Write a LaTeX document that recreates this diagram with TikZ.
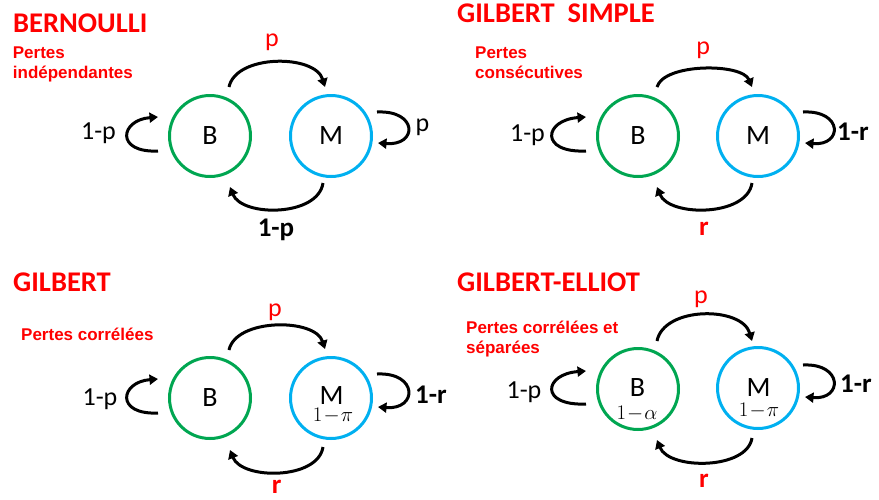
\documentclass[tikz,border=0pt]{standalone}
\usepackage{fontspec}
\setmainfont{Carlito}
\newfontfamily\arialf{Liberation Sans}
\usetikzlibrary{arrows.meta,calc}
\definecolor{sgreen}{RGB}{0,166,81}
\definecolor{sblue}{RGB}{0,176,240}
\definecolor{sred}{RGB}{255,0,0}
\begin{document}
\begin{tikzpicture}[x=1pt,y=-1pt,
 state/.style={circle,draw,line width=3pt,minimum size=81pt,inner sep=0pt,font=\fontsize{28}{28}\selectfont},
 bst/.style={state,draw=sgreen},
 mst/.style={state,draw=sblue},
 letter/.style={font=\fontsize{28}{28}\selectfont,inner sep=0pt,anchor=base,text depth=0pt},
 arr/.style={line width=3pt,-{Triangle[length=8.5pt,width=10pt]}},
 ttl/.style={text=sred,font=\bfseries\fontsize{28.5}{28.5}\selectfont,anchor=base west,inner sep=0pt},
 subt/.style={text=sred,font=\arialf\bfseries\fontsize{17}{19.5}\selectfont,anchor=north west,align=left,inner sep=0pt},
 lab/.style={font=\fontsize{26}{26}\selectfont,inner sep=0pt,anchor=base},
 blab/.style={font=\bfseries\fontsize{27}{27}\selectfont,inner sep=0pt,anchor=base},
 plab/.style={lab,text=sred},
 rlab/.style={font=\bfseries\fontsize{27}{27}\selectfont,inner sep=0pt,anchor=base,text depth=0pt,text=sred},
 mlab/.style={font=\fontsize{20}{20}\selectfont,inner sep=0pt,anchor=base,text height=12pt}]
\useasboundingbox (0,0) rectangle (879,499);

% ---------- Panel 1: BERNOULLI
\node[ttl] (t1) at (13,32.7) {BERNOULLI};
\node[subt] (s1) at (12.7,46.7) {Pertes\\indépendantes};
\node[bst] (B1) at (210,136) {B};
\node[mst] (M1) at (331,136) {M};
\draw[arr] ($(B1)+(19,-49)$) .. controls ($(B1)+(26,-82)$) and ($(M1)+(-16,-82)$) .. ($(M1)+(-6,-49)$);
\draw[arr] ($(M1)+(-8,47)$) .. controls ($(M1)+(-13,81)$) and ($(B1)+(32,81)$) .. ($(B1)+(20,51)$);
\draw[arr] ($(B1)+(-52,15)$) .. controls ($(B1)+(-95,17)$) and ($(B1)+(-90,-16)$) .. ($(B1)+(-52,-19)$);
\draw[arr] ($(M1)+(46,-24)$) .. controls ($(M1)+(87,-26)$) and ($(M1)+(87,10)$) .. ($(M1)+(47,7)$);
\node[plab] (p1a) at (272,46) {p};
\node[lab] (p1b) at (98.5,139.3) {1-p};
\node[lab] (p1c) at (422.5,131) {p};
\node[blab] (p1d) at (276,236.5) {1-p};

% ---------- Panel 2: GILBERT SIMPLE
\node[ttl] (t2) at (457,22.7) {GILBERT\ \ SIMPLE};
\node[subt] (s2) at (475,46.7) {Pertes\\consécutives};
\node[bst] (B2) at (638,136) {B};
\node[mst] (M2) at (758,136) {M};
\draw[arr] ($(B2)+(19,-49)$) .. controls ($(B2)+(26,-73)$) and ($(M2)+(-16,-73)$) .. ($(M2)+(-6,-49)$);
\draw[arr] ($(M2)+(-6,47)$) .. controls ($(M2)+(-11,81)$) and ($(B2)+(31,81)$) .. ($(B2)+(19,51)$);
\draw[arr] ($(B2)+(-52,15)$) .. controls ($(B2)+(-99,17)$) and ($(B2)+(-94,-16)$) .. ($(B2)+(-52,-19)$);
\draw[arr] ($(M2)+(45,-24)$) .. controls ($(M2)+(85,-26)$) and ($(M2)+(85,10)$) .. ($(M2)+(47,7)$);
\node[plab] (p2a) at (703.3,54) {p};
\node[lab] (p2b) at (527.5,141.5) {1-p};
\node[blab] (p2c) at (853,140) {1-r};
\node[rlab] (p2d) at (704,235.7) {r};

% ---------- Panel 3: GILBERT
\node[ttl] (t3) at (13,291.7) {GILBERT};
\node[subt] (s3) at (21,328) {Pertes corrélées};
\node[bst] (B3) at (210,398) {B};
\node[mst] (M3) at (331,398) {};
\node[letter] (M3t) at (331.5,404) {M};
\node[mlab] (M3s) at (333,421) {$1\mkern1mu{-}\mkern1mu\pi$};
\draw[arr] ($(B3)+(19,-48)$) .. controls ($(B3)+(26,-80)$) and ($(M3)+(-16,-80)$) .. ($(M3)+(-6,-49)$);
\draw[arr] ($(M3)+(-8,49)$) .. controls ($(M3)+(-13,82)$) and ($(B3)+(32,82)$) .. ($(B3)+(20,52)$);
\draw[arr] ($(B3)+(-52,15)$) .. controls ($(B3)+(-95,17)$) and ($(B3)+(-90,-16)$) .. ($(B3)+(-52,-19)$);
\draw[arr] ($(M3)+(46,-24)$) .. controls ($(M3)+(87,-26)$) and ($(M3)+(87,12)$) .. ($(M3)+(47,9)$);
\node[plab] (p3a) at (275,316.5) {p};
\node[lab] (p3b) at (100,405) {1-p};
\node[blab] (p3c) at (431,403.5) {1-r};
\node[rlab] (p3d) at (276.7,493) {r};

% ---------- Panel 4: GILBERT-ELLIOT
\node[ttl] (t4) at (457,291.7) {GILBERT-ELLIOT};
\node[subt] (s4) at (466,321) {Pertes corrélées et\\séparées};
\node[bst] (B4) at (638,389) {};
\node[mst] (M4) at (758,388) {};
\node[letter] (B4t) at (637.5,396) {B};
\node[mlab] (B4s) at (637,419) {$1\mkern1mu{-}\mkern1mu\alpha$};
\node[letter] (M4t) at (758.5,396) {M};
\node[mlab] (M4s) at (759,416) {$1\mkern1mu{-}\mkern1mu\pi$};
\draw[arr] ($(B4)+(19,-48)$) .. controls ($(B4)+(26,-83)$) and ($(M4)+(-16,-82)$) .. ($(M4)+(-6,-47)$);
\draw[arr] ($(M4)+(-6,50)$) .. controls ($(M4)+(-11,82)$) and ($(B4)+(31,81)$) .. ($(B4)+(19,51)$);
\draw[arr] ($(B4)+(-52,15)$) .. controls ($(B4)+(-99,17)$) and ($(B4)+(-94,-15)$) .. ($(B4)+(-52,-18)$);
\draw[arr] ($(M4)+(45,-23)$) .. controls ($(M4)+(85,-25)$) and ($(M4)+(85,12)$) .. ($(M4)+(47,9)$);
\node[plab] (p4a) at (701,303) {p};
\node[lab] (p4b) at (524,398) {1-p};
\node[blab] (p4c) at (856,392) {1-r};
\node[rlab] (p4d) at (704,487) {r};
\end{tikzpicture}
\end{document}
